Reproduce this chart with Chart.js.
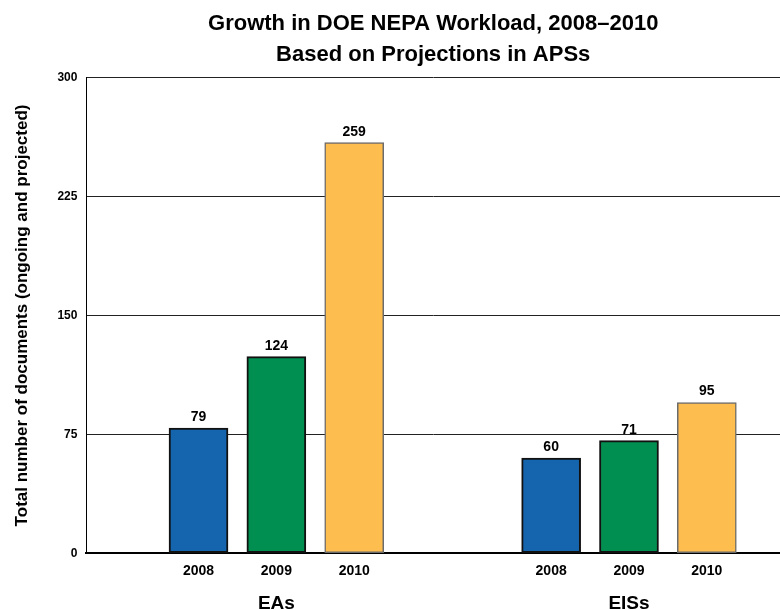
<!DOCTYPE html>
<html>
<head>
<meta charset="utf-8">
<script src="https://cdn.jsdelivr.net/npm/chart.js@4.4.1/dist/chart.umd.min.js"></script>
<style>
  body { margin: 0; background: #fff; }
  #wrap { width: 780px; height: 610px; }
</style>
</head>
<body>
<div id="wrap"><canvas id="myChart"></canvas></div>
<script>
var groups = ['EAs', 'EISs'];
var years = ['2008', '2009', '2010'];
var eaValues = [79, 124, 259];
var eisValues = [60, 71, 95];
var yTicks = [0, 75, 150, 225, 300];

var fillColors = ['#1565ae', '#008f50', '#fdbd4f'];
var edgeColors = ['#111111', '#111111', '#6b6b6b'];
var FONT = '"Liberation Sans", Arial, sans-serif';

// bars sit on a linear x scale so the gap between the two groups can be wider
var groupValues = [eaValues, eisValues];
var points = [], barFill = [], barEdge = [], yearPos = [], yearText = [], groupPos = [];
groupValues.forEach((vals, g) => {
    vals.forEach((v, i) => {
        var x = g * 4.53 + i + 1;
        points.push({x: x, y: v});
        barFill.push(fillColors[i]);
        barEdge.push(edgeColors[i]);
        yearPos.push(x);
        yearText.push(years[i]);
    });
    groupPos.push(g * 4.53 + 2);
});

var valueLabels = {
    id: 'valueLabels',
    afterDatasetsDraw(chart) {
        var ctx = chart.ctx;
        var meta = chart.getDatasetMeta(0);
        ctx.save();
        ctx.font = 'bold 14px ' + FONT;
        ctx.fillStyle = '#000';
        ctx.textAlign = 'center';
        ctx.textBaseline = 'bottom';
        meta.data.forEach((bar, i) => {
            ctx.fillText(points[i].y, bar.x, bar.y - 4);
        });
        ctx.restore();
    }
};

// center the title over the plot area rather than the whole canvas
var titleOverPlot = {
    id: 'titleOverPlot',
    afterLayout(chart) {
        if (chart.titleBlock) {
            chart.titleBlock.left = chart.chartArea.left;
            chart.titleBlock.right = chart.chartArea.right;
        }
    }
};

var ctx = document.getElementById('myChart');
var myChart = new Chart(ctx, {
    type: 'bar',
    data: {
        datasets: [{
            data: points,
            backgroundColor: barFill,
            borderColor: barEdge,
            borderWidth: [2, 2, 1.5, 2, 2, 1.5],
            borderSkipped: false,
            barThickness: 59
        }]
    },
    plugins: [valueLabels, titleOverPlot],
    options: {
        responsive: true,
        maintainAspectRatio: false,
        animation: false,
        layout: { padding: { left: 0, right: 0, top: 0, bottom: -7 } },
        plugins: {
            legend: { display: false },
            tooltip: { enabled: false },
            title: {
                display: true,
                text: ['Growth in DOE NEPA Workload, 2008\u20132010', 'Based on Projections in APSs'],
                color: '#000',
                font: { family: FONT, size: 22, weight: 'bold', lineHeight: 1.38 },
                padding: { top: 9, bottom: 8 }
            }
        },
        scales: {
            x: {
                type: 'linear',
                min: -0.44,
                max: 8.47,
                offset: false,
                grid: { display: false, offset: false, drawTicks: false },
                border: { display: true, color: '#000', width: 2 },
                afterBuildTicks: (scale) => {
                    scale.ticks = yearPos.map(v => ({ value: v }));
                },
                ticks: {
                    autoSkip: false,
                    maxRotation: 0,
                    padding: 10,
                    color: '#000',
                    font: { family: FONT, size: 14, weight: 'bold' },
                    callback: (value, index) => yearText[index]
                }
            },
            x2: {
                type: 'linear',
                position: 'bottom',
                min: -0.44,
                max: 8.47,
                offset: false,
                grid: { display: false, drawTicks: false },
                border: { display: false },
                afterBuildTicks: (scale) => {
                    scale.ticks = groupPos.map(v => ({ value: v }));
                },
                ticks: {
                    autoSkip: false,
                    maxRotation: 0,
                    padding: 4,
                    color: '#000',
                    font: { family: FONT, size: 19, weight: 'bold', lineHeight: 1 },
                    callback: (value, index) => groups[index]
                }
            },
            y: {
                min: 0,
                max: 300,
                afterBuildTicks: (scale) => {
                    scale.ticks = yTicks.map(v => ({ value: v }));
                },
                grid: { color: '#222', lineWidth: 1, drawTicks: false },
                border: { display: true, color: '#000', width: 1 },
                ticks: {
                    padding: 9,
                    color: '#000',
                    font: { family: FONT, size: 12, weight: 'bold' }
                },
                title: {
                    display: true,
                    text: 'Total number of documents (ongoing and projected)',
                    color: '#000',
                    font: { family: FONT, size: 17, weight: 'bold' },
                    padding: { top: 12, bottom: 16 }
                }
            }
        }
    }
});
</script>
</body>
</html>
